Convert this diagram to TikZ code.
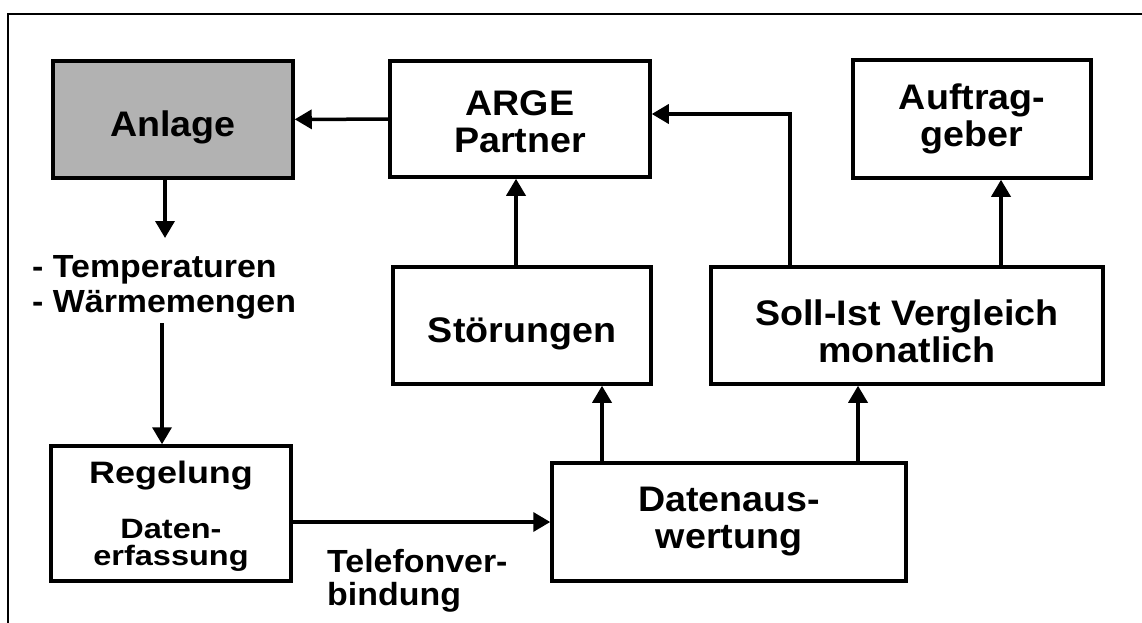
\documentclass[tikz,border=0pt]{standalone}
\usepackage{fontspec}
\setmainfont{Liberation Sans}[FakeStretch=1.06]
\newfontfamily\breitfont{Liberation Sans}[FakeStretch=1.16]
\usetikzlibrary{arrows,arrows.meta,positioning}

\newcommand{\kleinschrift}{\breitfont\bfseries\fontsize{28}{27}\selectfont}

\begin{document}
\begin{tikzpicture}[x=1pt,y=-1pt,
  >={Triangle[length=17pt,width=19pt]},
  box/.style={draw, line width=3.5pt, inner sep=0pt, align=center, font=\bfseries\fontsize{35.5}{37}\selectfont},
  lbl/.style={inner sep=0pt, align=left, font=\bfseries\fontsize{32}{35}\selectfont},
  pfeil/.style={->, line width=3.5pt}]
\useasboundingbox (0,0) rectangle (1142,623);
\draw[line width=2.5pt] (8,623) -- (8,14) -- (1142,14);

\node[box, fill=black!30, minimum width=240pt, minimum height=117pt, text height=33pt, text depth=0pt] (anlage) at (173,119.5) {Anlage};
\node[box, minimum width=260pt, minimum height=116pt] (arge) at (520,119) {\rule{0pt}{30pt}ARGE\\Partner};
\node[box, minimum width=238pt, minimum height=118pt] (auftrag) at (972,119) {Auftrag-\\geber};
\node[box, minimum width=258pt, minimum height=117pt, text height=33pt, text depth=0pt] (stoer) at (522,325.5) {St\"orungen};
\node[box, minimum width=392pt, minimum height=117pt] (soll) at (907,325.5) {\rule{0pt}{37pt}Soll-Ist Vergleich\\monatlich};
\node[box, font=\kleinschrift, minimum width=240pt, minimum height=135pt] (regel) at (171,513.5)
  {\breitfont\bfseries\fontsize{31}{31}\selectfont\rule{0pt}{28pt}Regelung\\[28pt]\kleinschrift Daten-\\\kleinschrift erfassung};
\node[box, minimum width=354pt, minimum height=118pt] (daten) at (729,522) {Datenaus-\\wertung};

\node[lbl, anchor=base west] (temp) at (32,312) {- Temperaturen\\- W\"armemengen};
\node[lbl, font=\bfseries\fontsize{32}{33}\selectfont, anchor=base west] (telefon) at (327,605) {Telefonver-\\bindung};

\coordinate (t1) at (165,238);
\coordinate (t2) at (162,323);
\coordinate (knick) at (790,114);

\draw[pfeil] (arge) -- (anlage);
\draw[pfeil] (anlage.south -| t1) -- (t1);
\draw[pfeil] (t2) -- (regel.north -| t2);
\draw[pfeil] (regel.east |- daten.west) -- (daten.west);
\draw[pfeil] (daten.north -| 602,0) -- (stoer.south -| 602,0);
\draw[pfeil] (daten.north -| 858,0) -- (soll.south -| 858,0);
\draw[pfeil] (stoer.north -| 516,0) -- (arge.south -| 516,0);
\draw[pfeil] (soll.north -| 1001,0) -- (auftrag.south -| 1001,0);
\draw[pfeil] (soll.north -| knick) -- (knick) -- (knick -| arge.east);
\end{tikzpicture}
\end{document}
